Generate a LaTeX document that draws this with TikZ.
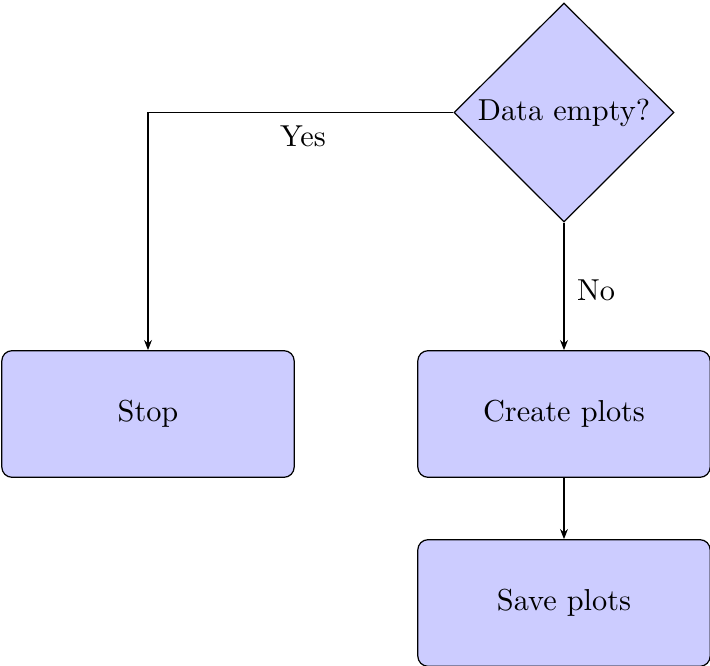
\documentclass[tikz,border=0pt]{standalone}
\usetikzlibrary{shapes.geometric,arrows.meta}
\begin{document}
\begin{tikzpicture}[x=0.33pt,y=-0.33pt,
  every node/.style={font=\normalsize},
  procbox/.style={draw, fill=blue!20, rounded corners=3.4pt, minimum width=96.5pt, minimum height=41.8pt, inner sep=0pt, line width=0.4pt},
  decbox/.style={draw, fill=blue!20, diamond, minimum width=72.6pt, minimum height=72.3pt, inner sep=0pt, line width=0.4pt},
  conn/.style={draw, line width=0.4pt, -{Stealth[length=3.3pt,width=2.6pt]}},
  lbl/.style={inner sep=0pt}]
\useasboundingbox (0,0) rectangle (710,666);
\node[decbox] (dec) at (564,112.5) {Data empty?};
\node[procbox] (stop) at (148,414) {Stop};
\node[procbox] (create) at (564,414) {Create plots};
\node[procbox] (save) at (564,603) {Save plots};
\coordinate (corner) at (148,112.5);
\draw[conn] (dec.west) -- (corner) -- (stop.north);
\draw[conn] (dec.south) -- (create.north);
\draw[conn] (create.south) -- (save.north);
\node[lbl] (yes) at (303,136) {Yes};
\node[lbl] (no) at (596,290) {No};
\end{tikzpicture}
\end{document}
